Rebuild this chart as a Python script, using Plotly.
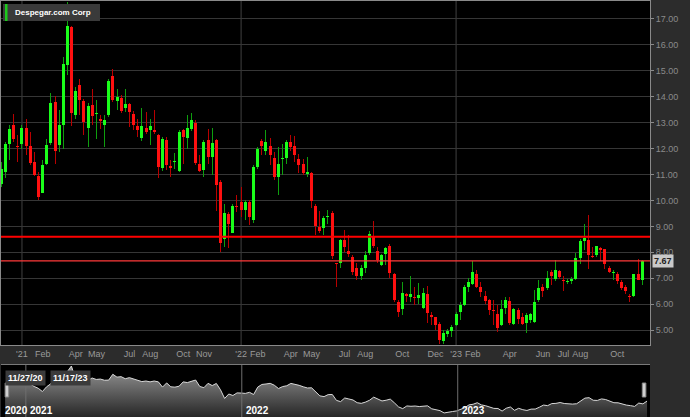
import pandas as pd
import plotly.graph_objects as go

# ---------------- data (weekly candles, week ending Friday) ----------------
title = "Despegar.com Corp"
first_week = "2020-11-27"

open_ = [10.65, 11.10, 12.17, 12.92, 12.10, 12.19, 12.81, 12.10, 11.49, 10.94,
         10.29, 11.40, 12.22, 13.79, 12.15, 12.90, 15.23, 16.68, 13.31, 14.46,
         13.82, 12.79, 13.67, 13.33, 13.15, 12.92, 13.28, 14.81, 13.82, 13.95,
         13.56, 13.73, 13.32, 12.86, 12.41, 12.79, 12.71, 12.73, 12.51, 11.26,
         12.32, 11.31, 11.47, 11.14, 12.71, 12.42, 12.77, 13.00, 11.40, 11.17,
         12.35, 11.68, 12.32, 10.72, 8.53, 9.46, 8.76, 9.76, 9.94, 9.62,
         9.94, 9.24, 11.29, 12.29, 11.90, 12.10, 11.64, 10.91, 11.60, 11.64,
         12.24, 12.09, 11.61, 11.42, 11.01, 11.04, 9.78, 8.98, 8.92, 9.36,
         9.50, 7.55, 7.60, 8.49, 8.04, 7.83, 7.40, 7.08, 7.40, 7.98,
         8.62, 8.04, 7.51, 7.95, 8.24, 7.15, 6.09, 5.80, 6.39, 6.26,
         6.29, 6.25, 5.84, 6.39, 5.58, 5.49, 5.22, 4.58, 4.86, 4.96,
         5.18, 5.69, 5.98, 6.68, 6.79, 7.15, 6.68, 6.32, 6.17, 5.77,
         5.63, 5.21, 5.86, 6.12, 5.24, 5.76, 5.50, 5.27, 5.40, 5.31,
         6.14, 6.66, 6.62, 7.24, 6.98, 7.26, 6.95, 6.87, 6.89, 6.98,
         7.79, 8.43, 8.46, 7.86, 7.88, 8.16, 8.11, 7.40, 7.20, 7.17,
         6.85, 6.68, 6.31, 6.30, 7.15, 6.92]
high = [11.50, 12.26, 12.90, 13.35, 12.51, 12.90, 13.15, 12.64, 11.87, 11.10,
        11.55, 12.38, 14.15, 14.03, 13.50, 15.55, 17.66, 16.74, 14.37, 14.67,
        13.92, 13.77, 14.31, 13.86, 13.28, 13.28, 14.67, 15.08, 14.31, 14.05,
        14.31, 13.77, 13.44, 13.13, 13.58, 13.41, 13.15, 13.50, 12.58, 12.45,
        12.45, 11.55, 11.83, 12.71, 12.77, 13.28, 13.37, 13.09, 11.74, 12.32,
        12.77, 12.81, 12.38, 10.80, 9.85, 9.56, 9.88, 10.20, 10.50, 10.03,
        10.01, 11.36, 12.06, 12.38, 12.70, 12.42, 11.87, 12.06, 12.19, 12.32,
        12.51, 12.47, 11.81, 11.61, 11.68, 11.10, 9.88, 9.60, 9.39, 9.62,
        9.60, 7.57, 8.53, 8.85, 8.66, 7.89, 7.57, 7.51, 8.04, 8.82,
        9.20, 8.21, 7.95, 8.21, 8.31, 7.21, 6.16, 6.84, 6.44, 7.08,
        6.67, 6.80, 6.63, 6.71, 5.71, 5.52, 5.31, 4.99, 5.05, 5.18,
        5.69, 6.08, 6.72, 7.02, 7.65, 7.30, 6.85, 6.50, 6.21, 6.17,
        5.95, 6.14, 6.27, 6.27, 5.86, 5.86, 5.66, 5.66, 5.67, 6.53,
        6.95, 6.79, 7.28, 7.30, 7.69, 7.30, 7.07, 6.98, 7.04, 7.97,
        8.52, 9.10, 9.42, 8.20, 8.26, 8.20, 8.14, 7.46, 7.33, 7.24,
        6.92, 6.72, 6.40, 7.17, 7.75, 7.72]
low = [10.50, 10.85, 11.55, 12.26, 11.49, 12.00, 11.74, 11.36, 10.95, 10.01,
       10.27, 11.36, 12.13, 11.40, 11.87, 12.00, 14.85, 12.87, 13.15, 13.28,
       12.51, 12.06, 12.90, 12.38, 12.77, 12.06, 13.22, 13.79, 13.47, 13.38,
       13.41, 12.83, 12.71, 12.45, 12.28, 12.55, 12.13, 12.58, 10.88, 11.13,
       11.17, 10.91, 11.21, 11.08, 11.40, 11.97, 12.67, 11.36, 11.10, 10.91,
       11.42, 10.97, 9.60, 8.02, 8.21, 8.17, 8.73, 9.56, 9.37, 9.24,
       9.05, 9.14, 11.23, 11.74, 11.77, 11.36, 10.80, 10.20, 10.97, 11.42,
       11.90, 11.49, 11.04, 10.97, 10.91, 9.69, 8.66, 8.73, 8.66, 9.11,
       7.76, 6.67, 7.38, 8.02, 7.83, 7.12, 6.95, 6.93, 7.21, 7.89,
       8.15, 7.57, 7.48, 7.51, 7.02, 6.09, 5.52, 5.58, 6.09, 6.09,
       5.97, 5.99, 5.81, 5.29, 5.20, 5.00, 4.47, 4.45, 4.73, 4.73,
       5.14, 5.37, 5.91, 6.47, 6.72, 6.62, 6.27, 6.02, 5.57, 5.18,
       4.92, 5.14, 5.63, 5.18, 5.18, 5.24, 5.18, 4.90, 5.27, 5.27,
       6.08, 6.27, 6.53, 6.72, 6.89, 6.98, 6.50, 6.76, 6.79, 6.94,
       7.53, 8.07, 7.34, 7.79, 7.81, 7.66, 7.37, 7.20, 6.94, 6.79,
       6.53, 6.40, 6.08, 6.27, 6.92, 6.75]
close = [11.23, 12.19, 12.77, 12.38, 12.06, 12.81, 12.10, 11.45, 10.97, 10.14,
         11.36, 12.13, 13.77, 11.90, 12.90, 15.27, 16.74, 13.38, 14.24, 13.86,
         13.03, 13.64, 13.26, 13.36, 13.05, 13.09, 14.60, 13.86, 13.99, 13.45,
         13.73, 13.41, 12.92, 12.71, 12.86, 12.64, 12.86, 12.64, 11.29, 12.36,
         11.36, 11.27, 11.51, 12.64, 12.45, 12.81, 13.12, 11.45, 11.13, 12.26,
         11.68, 12.23, 10.59, 8.34, 9.50, 9.11, 9.79, 9.74, 9.65, 9.94,
         9.37, 11.29, 11.97, 12.09, 12.26, 11.77, 10.91, 11.42, 11.63, 12.24,
         12.06, 11.74, 11.36, 11.06, 11.10, 9.98, 9.01, 8.82, 9.34, 9.38,
         7.85, 7.53, 8.47, 8.21, 7.95, 7.25, 7.08, 7.40, 7.89, 8.69,
         8.25, 7.70, 7.89, 8.17, 7.21, 6.16, 5.71, 6.41, 6.32, 6.39,
         6.25, 6.35, 6.44, 5.67, 5.52, 5.20, 4.60, 4.88, 4.96, 5.12,
         5.60, 5.95, 6.68, 6.85, 7.24, 6.68, 6.47, 6.11, 5.78, 5.75,
         5.08, 5.82, 6.14, 5.27, 5.80, 5.44, 5.24, 5.59, 5.60, 6.08,
         6.63, 6.49, 7.02, 7.07, 7.30, 7.04, 6.88, 6.89, 6.98, 7.79,
         8.43, 8.55, 7.88, 7.83, 8.23, 8.07, 7.56, 7.24, 7.22, 6.88,
         6.63, 6.49, 6.29, 7.15, 6.95, 7.67]

# horizontal levels drawn on the chart
levels = [8.60, 7.67]

# axis ticks
y_ticks = [5, 6, 7, 8, 9, 10, 11, 12, 13, 14, 15, 16, 17]
x_tick_months = ["2021-01", "2021-02", "2021-04", "2021-05", "2021-07", "2021-08",
                 "2021-10", "2021-11", "2022-01", "2022-02", "2022-04", "2022-05",
                 "2022-07", "2022-08", "2022-10", "2022-12", "2023-01", "2023-02",
                 "2023-04", "2023-06", "2023-07", "2023-08", "2023-10"]
x_tick_labels = ["'21", "Feb", "Apr", "May", "Jul", "Aug", "Oct", "Nov",
                 "'22", "Feb", "Apr", "May", "Jul", "Aug", "Oct", "Dec",
                 "'23", "Feb", "Apr", "Jun", "Jul", "Aug", "Oct"]
year_labels = ["'21", "'22", "'23"]

# navigator
nav_range = ["2020-11-20", "2023-11-22"]
nav_year_starts = ["2020-11-20", "2021-01-01", "2022-01-01", "2023-01-01"]
nav_year_labels = ["2020", "2021", "2022", "2023"]
sel_labels = ["11/27/20", "11/17/23"]

# ---------------- figure ----------------
W, H = 690, 417
dates = pd.date_range(first_week, periods=len(close), freq="7D")
s_dates = pd.Series(dates)

tickvals = []
for m in x_tick_months:
    p = pd.Period(m, "M")
    sel = s_dates[(s_dates.dt.year == p.year) & (s_dates.dt.month == p.month)]
    tickvals.append(sel.iloc[0])
year_tickvals = [tickvals[x_tick_labels.index(y)] for y in year_labels]

FONT = "Liberation Sans, Arial, sans-serif"
# alpha just below 1 so plotly rounds bar edges to whole pixels (crisp)
UP_BODY, DN_BODY = "rgba(26,255,26,0.995)", "rgba(255,16,16,0.995)"
UP_WICK, DN_WICK = "rgba(14,160,14,0.995)", "rgba(185,0,0,0.995)"
GRID = "#363636"


def px_x(p):
    return p / W


def px_y(p):
    return (H - p) / H


main_dom_x = [px_x(1), px_x(650)]
main_dom_y = [px_y(345), px_y(1)]
nav_dom_y = [0, px_y(365)]

x_start = pd.Timestamp(first_week) - pd.Timedelta(hours=12)
x_end = pd.Timestamp(first_week) + pd.Timedelta(days=1098.3)
px_per_week = (main_dom_x[1] - main_dom_x[0]) * W / ((x_end - x_start).total_seconds() / (7 * 86400))
week_ms = 7 * 24 * 3600 * 1000

up = [c >= o for o, c in zip(open_, close)]
fig = go.Figure()

# wicks (high-low range)
fig.add_trace(go.Bar(
    x=dates, y=[h - l for h, l in zip(high, low)], base=low,
    marker=dict(color=[UP_WICK if u else DN_WICK for u in up], line=dict(width=0)),
    width=week_ms * 1.0 / px_per_week, xaxis="x", yaxis="y", hoverinfo="skip",
))
# bodies (open-close range)
fig.add_trace(go.Bar(
    x=dates, y=[max(abs(c - o), 0.04) for o, c in zip(open_, close)],
    base=[min(o, c) for o, c in zip(open_, close)],
    marker=dict(color=[UP_BODY if u else DN_BODY for u in up], line=dict(width=0)),
    width=week_ms * 3.0 / px_per_week, xaxis="x", yaxis="y", hoverinfo="skip",
))

# navigator area
fig.add_trace(go.Scatter(
    x=dates, y=close, mode="lines", line=dict(color="#d8d8d8", width=1),
    fill="tozeroy",
    fillgradient=dict(type="vertical", start=3.55, stop=17.0,
                      colorscale=[[0, "#262626"], [1, "#9a9a9a"]]),
    xaxis="x2", yaxis="y2", hoverinfo="skip",
))

shapes = []
# year gridlines on main chart
for d in year_tickvals:
    shapes.append(dict(type="line", xref="x", yref="y domain", x0=d, x1=d, y0=0, y1=1,
                       line=dict(color="#404040", width=1), layer="below"))
# level lines
shapes.append(dict(type="line", xref="x domain", yref="y", x0=0, x1=1,
                   y0=levels[0], y1=levels[0], line=dict(color="#ff0000", width=2)))
shapes.append(dict(type="line", xref="x domain", yref="y", x0=0, x1=1,
                   y0=levels[1], y1=levels[1], line=dict(color="#ff3a3a", width=1.3)))
# navigator year separators
for d in nav_year_starts[1:]:
    shapes.append(dict(type="line", xref="x2", yref="y2 domain", x0=d, x1=d, y0=0, y1=1,
                       line=dict(color="#6e6e6e", width=1)))
# navigator handles (selected range ends)
for d in [dates[0] + pd.Timedelta(days=3), dates[-1] - pd.Timedelta(days=5)]:
    shapes.append(dict(type="rect", xref="x2", yref="paper",
                       x0=d - pd.Timedelta(days=3), x1=d + pd.Timedelta(days=3),
                       y0=px_y(397), y1=px_y(383),
                       fillcolor="#cfcfcf", line=dict(color="#8a8a8a", width=1)))
# title box
shapes.append(dict(type="rect", xref="paper", yref="paper",
                   x0=px_x(3), x1=px_x(100), y0=px_y(21), y1=px_y(4),
                   fillcolor="#3a3a3a", line=dict(width=0)))
shapes.append(dict(type="rect", xref="paper", yref="paper",
                   x0=px_x(5), x1=px_x(7.5), y0=px_y(21), y1=px_y(4),
                   fillcolor="#1cc81c", line=dict(width=0)))

annotations = [
    dict(text=title, xref="paper", yref="paper", x=px_x(12.5), y=px_y(12.5),
         xanchor="left", yanchor="middle", showarrow=False,
         font=dict(family=FONT, size=8, color="#ffffff", weight="bold")),
    dict(text=f"{close[-1]:.2f}", xref="paper", yref="y", x=px_x(652), y=close[-1],
         xanchor="left", yanchor="middle", showarrow=False, bgcolor="#c9c9c9",
         borderpad=1, font=dict(family=FONT, size=9, color="#222222", weight="bold")),
]
for lbl, d in zip(nav_year_labels, nav_year_starts):
    annotations.append(dict(text=lbl, xref="x2", yref="paper", x=d, y=px_y(403),
                            xanchor="left", yanchor="top", xshift=2, showarrow=False,
                            font=dict(family=FONT, size=10, color="#ffffff", weight="bold")))
annotations.append(dict(text=sel_labels[0], xref="paper", yref="paper", x=px_x(5), y=px_y(370),
                        xanchor="left", yanchor="top", showarrow=False, bgcolor="#3b3b3b",
                        borderpad=2, font=dict(family=FONT, size=9, color="#ffffff", weight="bold")))
annotations.append(dict(text=sel_labels[1], xref="paper", yref="paper", x=px_x(50), y=px_y(370),
                        xanchor="left", yanchor="top", showarrow=False, bgcolor="#3b3b3b",
                        borderpad=2, font=dict(family=FONT, size=9, color="#ffffff", weight="bold")))

fig.update_layout(
    width=W, height=H, margin=dict(l=0, r=0, t=0, b=0),
    paper_bgcolor="#2c2c2c", plot_bgcolor="#000000",
    showlegend=False, barmode="overlay", bargap=0,
    font=dict(family=FONT), hovermode=False,
    xaxis=dict(domain=main_dom_x, anchor="y", type="date", range=[x_start, x_end],
               showgrid=False, zeroline=False,
               tickmode="array", tickvals=tickvals, ticktext=x_tick_labels,
               ticks="", tickfont=dict(size=9, color="#9a9a9a"),
               showline=True, mirror=True, linecolor="#8a8a8a", linewidth=1),
    yaxis=dict(domain=main_dom_y, anchor="x", side="right",
               range=[4.423, 17.694], tickmode="array", tickvals=y_ticks,
               ticktext=[f"{v:.2f}" for v in y_ticks],
               showgrid=True, gridcolor=GRID, gridwidth=1, zeroline=False,
               ticks="outside", ticklen=3, tickcolor="#8a8a8a",
               tickfont=dict(size=9, color="#8a8a8a"),
               showline=True, mirror=True, linecolor="#8a8a8a", linewidth=1),
    xaxis2=dict(domain=main_dom_x, anchor="y2", type="date", range=nav_range,
                showgrid=False, zeroline=False, showticklabels=False, ticks="",
                showline=True, mirror=True, linecolor="#7a7a7a", linewidth=1),
    yaxis2=dict(domain=nav_dom_y, anchor="x2", range=[3.55, 17.0],
                showgrid=False, zeroline=False, showticklabels=False, ticks="",
                showline=False),
    shapes=shapes, annotations=annotations,
)

fig.write_html(
    "out.html",
    config={"displayModeBar": False, "staticPlot": False},
    post_script="document.body.style.margin='0';document.body.style.background='#2c2c2c';",
)
